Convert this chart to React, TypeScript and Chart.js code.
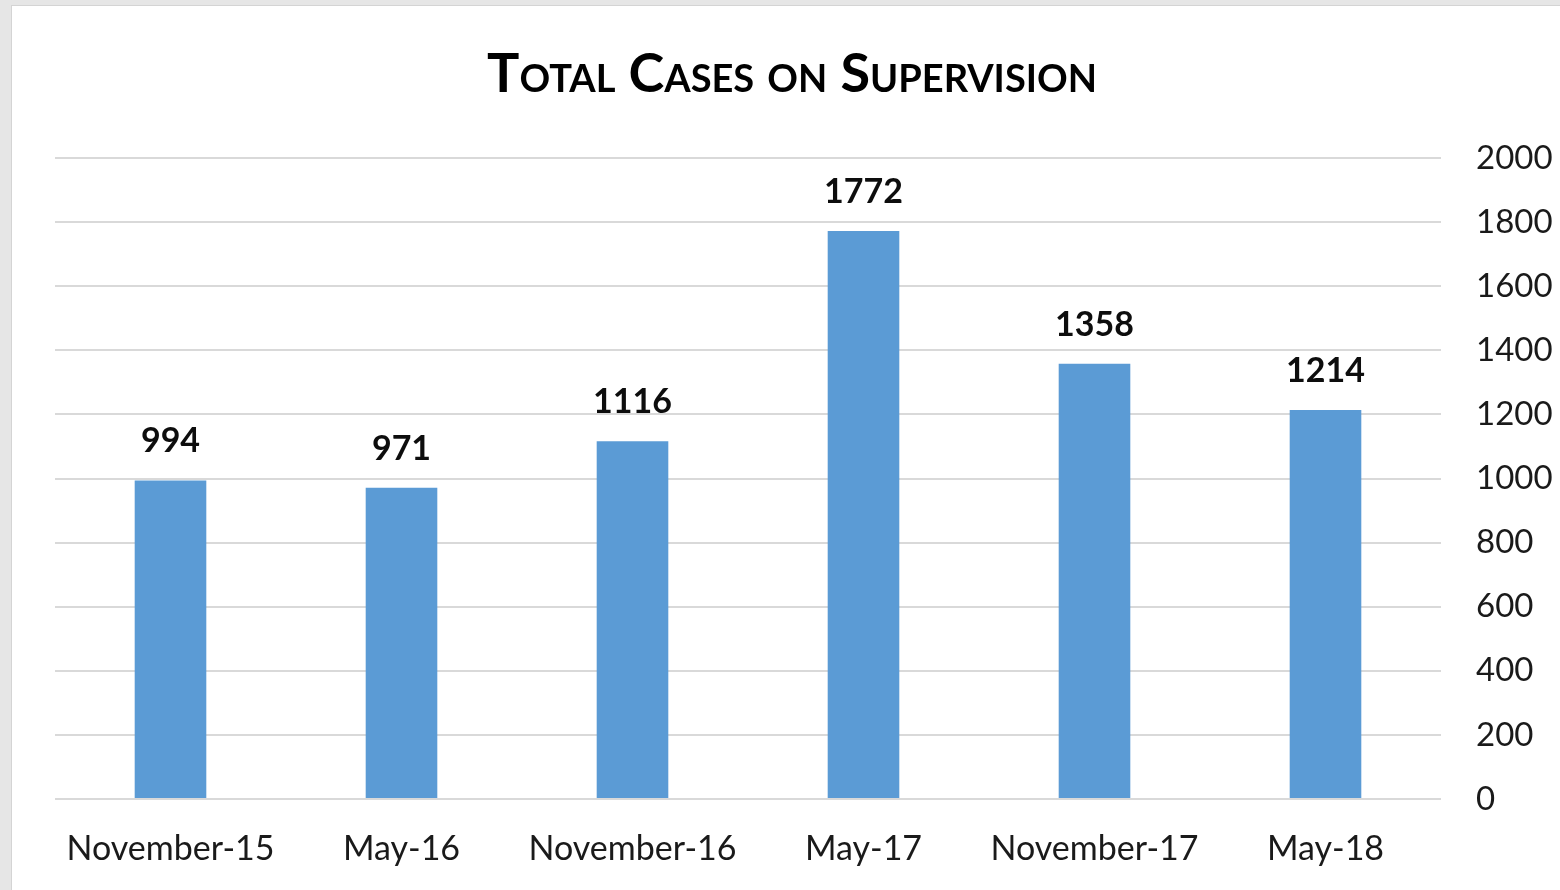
import React, { useEffect, useRef } from "react";
import { Chart, registerables } from "chart.js";

Chart.register(...registerables);

const categories = ["November-15", "May-16", "November-16", "May-17", "November-17", "May-18"];
const totalCases = [994, 971, 1116, 1772, 1358, 1214];
const titleText = "Total Cases on Supervision";
const yMin = 0;
const yMax = 2000;
const yStep = 200;

const FONT = "Lato, 'Open Sans', sans-serif";

const titlePlugin = {
  id: "smallCapsTitle",
  afterDraw(chart: any) {
    const ctx = chart.ctx as CanvasRenderingContext2D;
    ctx.save();
    ctx.font = `bold 54px ${FONT}`;
    (ctx as any).fontVariantCaps = "small-caps";
    ctx.fillStyle = "#000000";
    ctx.textAlign = "center";
    ctx.textBaseline = "alphabetic";
    ctx.fillText(titleText, chart.width / 2 + 6, 86);
    ctx.restore();
  },
};

const dataLabelPlugin = {
  id: "barValueLabels",
  afterDatasetsDraw(chart: any) {
    const ctx = chart.ctx as CanvasRenderingContext2D;
    const meta = chart.getDatasetMeta(0);
    ctx.save();
    ctx.font = `bold 34px ${FONT}`;
    ctx.fillStyle = "#0d0d0d";
    ctx.textAlign = "center";
    ctx.textBaseline = "alphabetic";
    meta.data.forEach((bar: any, i: number) => {
      const v = chart.data.datasets[0].data[i];
      ctx.fillText(String(v), bar.x, bar.y - 28);
    });
    ctx.restore();
  },
};

export default function App() {
  const canvasRef = useRef<HTMLCanvasElement | null>(null);

  useEffect(() => {
    document.body.style.margin = "0";
    const canvas = canvasRef.current;
    if (!canvas) return;
    const chart = new Chart(canvas, {
      type: "bar",
      data: {
        labels: categories,
        datasets: [
          {
            label: "Total Cases",
            data: totalCases,
            backgroundColor: "#5B9BD5",
            borderWidth: 0,
            barPercentage: 0.62,
            categoryPercentage: 0.5,
          },
        ],
      },
      options: {
        responsive: false,
        animation: false,
        layout: { padding: { top: 152, left: 43, right: 0, bottom: 0 } },
        plugins: {
          legend: { display: false },
          title: { display: false },
          tooltip: { enabled: false },
        },
        scales: {
          x: {
            grid: { display: false },
            border: { display: false },
            ticks: {
              color: "#1a1a1a",
              font: { family: FONT, size: 34 },
              padding: 22,
              maxRotation: 0,
              autoSkip: false,
            },
            afterFit: (s: any) => {
              s.height = 91;
            },
          },
          y: {
            position: "right",
            min: yMin,
            max: yMax,
            grid: { color: "#d9d9d9", lineWidth: 2, drawTicks: false },
            border: { display: false },
            ticks: {
              stepSize: yStep,
              color: "#1a1a1a",
              font: { family: FONT, size: 33 },
              padding: 35,
              callback: (v: any) => String(v),
            },
            afterFit: (s: any) => {
              s.width = 119;
            },
          },
        },
      },
      plugins: [titlePlugin, dataLabelPlugin],
    });
    return () => chart.destroy();
  }, []);

  return (
    <div style={{ position: "relative", width: 1560, height: 890, background: "#e6e6e6", overflow: "hidden" }}>
      <div
        style={{
          position: "absolute",
          left: 11,
          top: 5,
          width: 1549,
          height: 885,
          background: "#ffffff",
          borderLeft: "1px solid #d4d4d4",
          borderTop: "1px solid #d4d4d4",
        }}
      >
        <canvas ref={canvasRef} width={1548} height={884} style={{ display: "block" }} />
      </div>
    </div>
  );
}
